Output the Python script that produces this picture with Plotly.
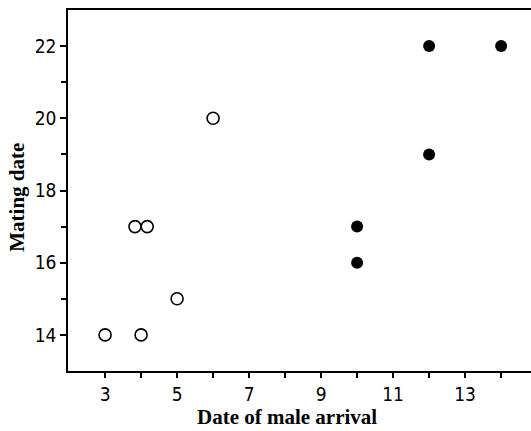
import plotly.graph_objects as go

# Data
open_x = [3, 4, 3.83, 4.17, 5, 6]
open_y = [14, 14, 17, 17, 15, 20]
filled_x = [10, 10, 12, 12, 14]
filled_y = [16, 17, 19, 22, 22]

x_tickvals = [3, 5, 7, 9, 11, 13]
y_tickvals = [14, 16, 18, 20, 22]

x_title = "Date of male arrival"
y_title = "Mating date"

fig = go.Figure()
fig.add_trace(go.Scatter(
    x=open_x, y=open_y, mode="markers",
    marker=dict(symbol="circle-open", size=12, color="black", line=dict(width=1.6, color="black")),
    showlegend=False, hoverinfo="skip"))
fig.add_trace(go.Scatter(
    x=filled_x, y=filled_y, mode="markers",
    marker=dict(symbol="circle", size=12, color="black"),
    showlegend=False, hoverinfo="skip"))

tickfont = dict(family="DejaVu Sans Condensed, Liberation Sans Narrow, sans-serif", size=19, color="black")
titlefont = dict(family="Liberation Serif, Times New Roman, serif", size=21, color="black")

fig.update_layout(
    width=531, height=431,
    margin=dict(l=68, r=0, t=10, b=60),
    paper_bgcolor="white", plot_bgcolor="white",
    xaxis=dict(
        range=[1.97, 14.83], tickvals=x_tickvals, ticktext=[str(v) for v in x_tickvals],
        ticks="outside", ticklen=5, tickwidth=1.5, tickcolor="black",
        minor=dict(tickvals=[4, 6, 8, 10, 12, 14], ticks="outside", ticklen=5, tickwidth=1.5, tickcolor="black"),
        showline=True, linecolor="black", linewidth=1.5, mirror=True,
        showgrid=False, zeroline=False, tickfont=tickfont,
    ),
    yaxis=dict(
        range=[13, 23], tickvals=y_tickvals, ticktext=[str(v) for v in y_tickvals],
        ticks="outside", ticklen=6, tickwidth=1.5, tickcolor="black",
        minor=dict(tickvals=[15, 17, 19, 21], ticks="outside", ticklen=5, tickwidth=1.5, tickcolor="black"),
        showline=True, linecolor="black", linewidth=1.5, mirror=False,
        showgrid=False, zeroline=False, tickfont=tickfont,
    ),
    annotations=[
        dict(text="<b>%s</b>" % x_title, xref="x", yref="paper", x=8.06, y=0, yshift=-46,
             showarrow=False, font=titlefont, xanchor="center", yanchor="middle"),
        dict(text="<b>%s</b>" % y_title, xref="paper", yref="y", x=0, xshift=-51, y=17.8,
             showarrow=False, font=titlefont, textangle=-90, xanchor="center", yanchor="middle"),
    ],
)

fig.write_html("out.html")
